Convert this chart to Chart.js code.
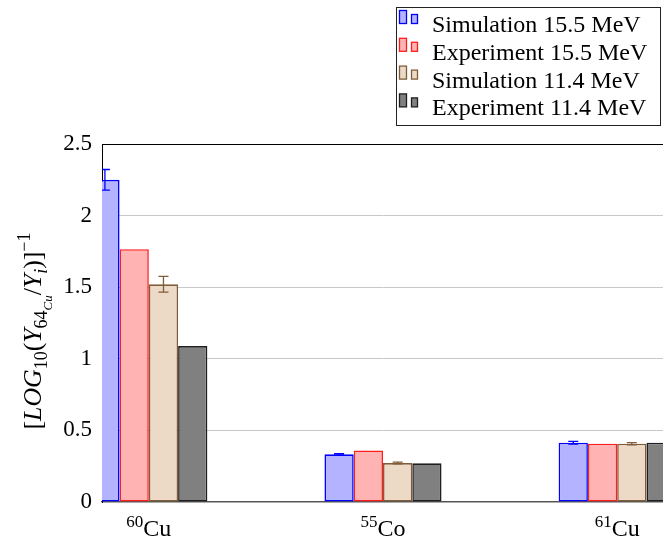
<!DOCTYPE html>
<html>
<head>
<meta charset="utf-8">
<script src="https://cdn.jsdelivr.net/npm/chart.js@4"></script>
<style>
  html, body { margin: 0; padding: 0; background: #fff; overflow: hidden; }
  #wrap { position: absolute; left: 0; top: 0; width: 670px; height: 541px; }
</style>
</head>
<body>
<div id="wrap"><canvas id="c" width="670" height="541"></canvas></div>
<script>
// ---------- data ----------
const isotopeMass   = ['60', '55', '61'];
const isotopeSymbol = ['Cu', 'Co', 'Cu'];
const seriesNames = ['Simulation 15.5 MeV', 'Experiment 15.5 MeV', 'Simulation 11.4 MeV', 'Experiment 11.4 MeV'];
const sim155 = [2.25, 0.333, 0.414];
const sim155Err = [0.072, 0.005, 0.01];
const exp155 = [1.765, 0.36, 0.407];
const sim114 = [1.52, 0.272, 0.407];
const sim114Err = [0.055, 0.006, 0.008];
const exp114 = [1.089, 0.27, 0.414];
const yTicks = [0, 0.5, 1, 1.5, 2, 2.5];
const xPositions = [0, 1, 2];

// ---------- styles ----------
const FONT = "'Liberation Serif', 'Times New Roman', serif";
const styles = [
  { fill: 'rgb(179,179,255)', border: 'rgb(0,0,255)' },
  { fill: 'rgb(255,179,179)', border: 'rgb(255,30,30)' },
  { fill: 'rgb(236,217,198)', border: 'rgb(128,92,56)' },
  { fill: 'rgb(128,128,128)', border: 'rgb(30,30,30)' }
];
const seriesValues = [sim155, exp155, sim114, exp114];
const seriesErrors = [sim155Err, null, sim114Err, null];

const datasets = seriesValues.map((vals, k) => ({
  label: seriesNames[k],
  data: vals.map((v, i) => ({ x: xPositions[i], y: v })),
  errors: seriesErrors[k],
  backgroundColor: styles[k].fill,
  borderColor: styles[k].border,
  borderWidth: 1.6,
  borderSkipped: false,
  categoryPercentage: 0.5,
  barPercentage: 1.0
}));

// ---------- plugins ----------
const errorBars = {
  id: 'errorBars',
  afterDatasetsDraw(chart) {
    const ctx = chart.ctx, ca = chart.chartArea, ys = chart.scales.y;
    ctx.save();
    ctx.beginPath();
    ctx.rect(ca.left, ca.top, ca.right - ca.left, ca.bottom - ca.top);
    ctx.clip();
    chart.data.datasets.forEach((ds, k) => {
      if (!ds.errors) return;
      const meta = chart.getDatasetMeta(k);
      meta.data.forEach((bar, i) => {
        const v = ds.data[i].y, e = ds.errors[i];
        const x = bar.x;
        const y1 = ys.getPixelForValue(v + e), y2 = ys.getPixelForValue(v - e);
        ctx.strokeStyle = ds.borderColor;
        ctx.lineWidth = 1.3;
        ctx.beginPath();
        ctx.moveTo(x, y1); ctx.lineTo(x, y2);
        ctx.moveTo(x - 5, y1); ctx.lineTo(x + 5, y1);
        ctx.moveTo(x - 5, y2); ctx.lineTo(x + 5, y2);
        ctx.stroke();
      });
    });
    ctx.restore();
  }
};

const frameAndLabels = {
  id: 'frameAndLabels',
  afterDraw(chart) {
    const ctx = chart.ctx, ca = chart.chartArea, xs = chart.scales.x;
    ctx.save();
    // top frame line
    ctx.strokeStyle = '#000';
    ctx.lineWidth = 1;
    ctx.beginPath();
    ctx.moveTo(ca.left, ca.top + 0.5);
    ctx.lineTo(ca.right, ca.top + 0.5);
    ctx.stroke();

    // x category labels with superscript mass number
    ctx.fillStyle = '#000';
    ctx.textBaseline = 'alphabetic';
    ctx.textAlign = 'left';
    isotopeMass.forEach((m, i) => {
      const px = xs.getPixelForValue(xPositions[i]);
      ctx.font = '17px ' + FONT;
      const wm = ctx.measureText(m).width;
      ctx.font = '24px ' + FONT;
      const ws = ctx.measureText(isotopeSymbol[i]).width;
      const x0 = px - (wm + ws) / 2;
      const base = 536;
      ctx.font = '17px ' + FONT;
      ctx.fillText(m, x0, base - 9);
      ctx.font = '24px ' + FONT;
      ctx.fillText(isotopeSymbol[i], x0 + wm, base);
    });

    // y axis title with mixed fonts
    const B = 23;
    const segs = [
      { t: '[', it: false, s: 1, dy: 0 },
      { t: 'LOG', it: true, s: 1, dy: 0 },
      { t: '10', it: false, s: 0.7, dy: 0.25 },
      { t: '(', it: false, s: 1, dy: 0 },
      { t: 'Y', it: true, s: 1, dy: 0 },
      { t: '64', it: false, s: 0.7, dy: 0.25 },
      { t: 'Cu', it: true, s: 0.5, dy: 0.42 },
      { t: '/', it: false, s: 1, dy: 0 },
      { t: 'Y', it: true, s: 1, dy: 0 },
      { t: 'i', it: true, s: 0.7, dy: 0.25 },
      { t: ')]', it: false, s: 1, dy: 0 },
      { t: '\u22121', it: false, s: 0.7, dy: -0.42 }
    ];
    const fontOf = (sg, base) => (sg.it ? 'italic ' : '') + (base * sg.s).toFixed(1) + 'px ' + FONT;
    let total = 0;
    segs.forEach(sg => { ctx.font = fontOf(sg, B); total += ctx.measureText(sg.t).width; });
    const target = 197;
    const base = B * target / total;
    let w = 0;
    segs.forEach(sg => { ctx.font = fontOf(sg, base); sg.w = ctx.measureText(sg.t).width; w += sg.w; });
    ctx.translate(41, 331);
    ctx.rotate(-Math.PI / 2);
    let cx = -w / 2;
    segs.forEach(sg => {
      ctx.font = fontOf(sg, base);
      ctx.fillText(sg.t, cx, sg.dy * base);
      cx += sg.w;
    });
    ctx.restore();

    // legend
    ctx.save();
    const lx0 = 396.5, ly0 = 7.5, lx1 = 660.5, ly1 = 125.5;
    ctx.fillStyle = '#fff';
    ctx.fillRect(lx0, ly0, lx1 - lx0, ly1 - ly0);
    ctx.strokeStyle = '#222';
    ctx.lineWidth = 1;
    ctx.strokeRect(lx0, ly0, lx1 - lx0, ly1 - ly0);
    chart.data.datasets.forEach((ds, k) => {
      const baseY = 32 + 27.8 * k;
      const bot = baseY - 8.5;
      ctx.fillStyle = ds.backgroundColor;
      ctx.strokeStyle = ds.borderColor;
      ctx.lineWidth = 1.3;
      ctx.fillRect(399.5, bot - 13, 7, 13);
      ctx.strokeRect(399.5, bot - 13, 7, 13);
      ctx.fillRect(411.5, bot - 9, 6, 9);
      ctx.strokeRect(411.5, bot - 9, 6, 9);
      ctx.fillStyle = '#000';
      ctx.font = '24px ' + FONT;
      ctx.textAlign = 'left';
      ctx.textBaseline = 'alphabetic';
      ctx.fillText(ds.label, 432, baseY);
    });
    ctx.restore();
  }
};

new Chart(document.getElementById('c'), {
  type: 'bar',
  data: { datasets },
  options: {
    responsive: false,
    animation: false,
    layout: { padding: { top: 144, right: 6, bottom: 0, left: 0 } },
    plugins: { legend: { display: false }, title: { display: false }, tooltip: { enabled: false } },
    scales: {
      x: {
        type: 'linear',
        min: -0.2,
        max: 2.2,
        offset: false,
        afterBuildTicks(s) { s.ticks = xPositions.map(v => ({ value: v })); },
        ticks: { display: false },
        grid: { display: false },
        border: { display: true, color: '#555', width: 1.2 },
        afterFit(s) { s.height = 39; }
      },
      y: {
        type: 'linear',
        min: 0,
        max: 2.5,
        afterBuildTicks(s) { s.ticks = yTicks.map(v => ({ value: v })); },
        ticks: {
          color: '#000',
          font: { family: FONT, size: 23 },
          padding: 10,
          callback: v => String(v)
        },
        grid: { color: '#c8c8c8', lineWidth: 1, drawTicks: false },
        border: { display: true, color: '#000', width: 1 },
        afterFit(s) { s.width = 102; }
      }
    }
  },
  plugins: [errorBars, frameAndLabels]
});
</script>
</body>
</html>
